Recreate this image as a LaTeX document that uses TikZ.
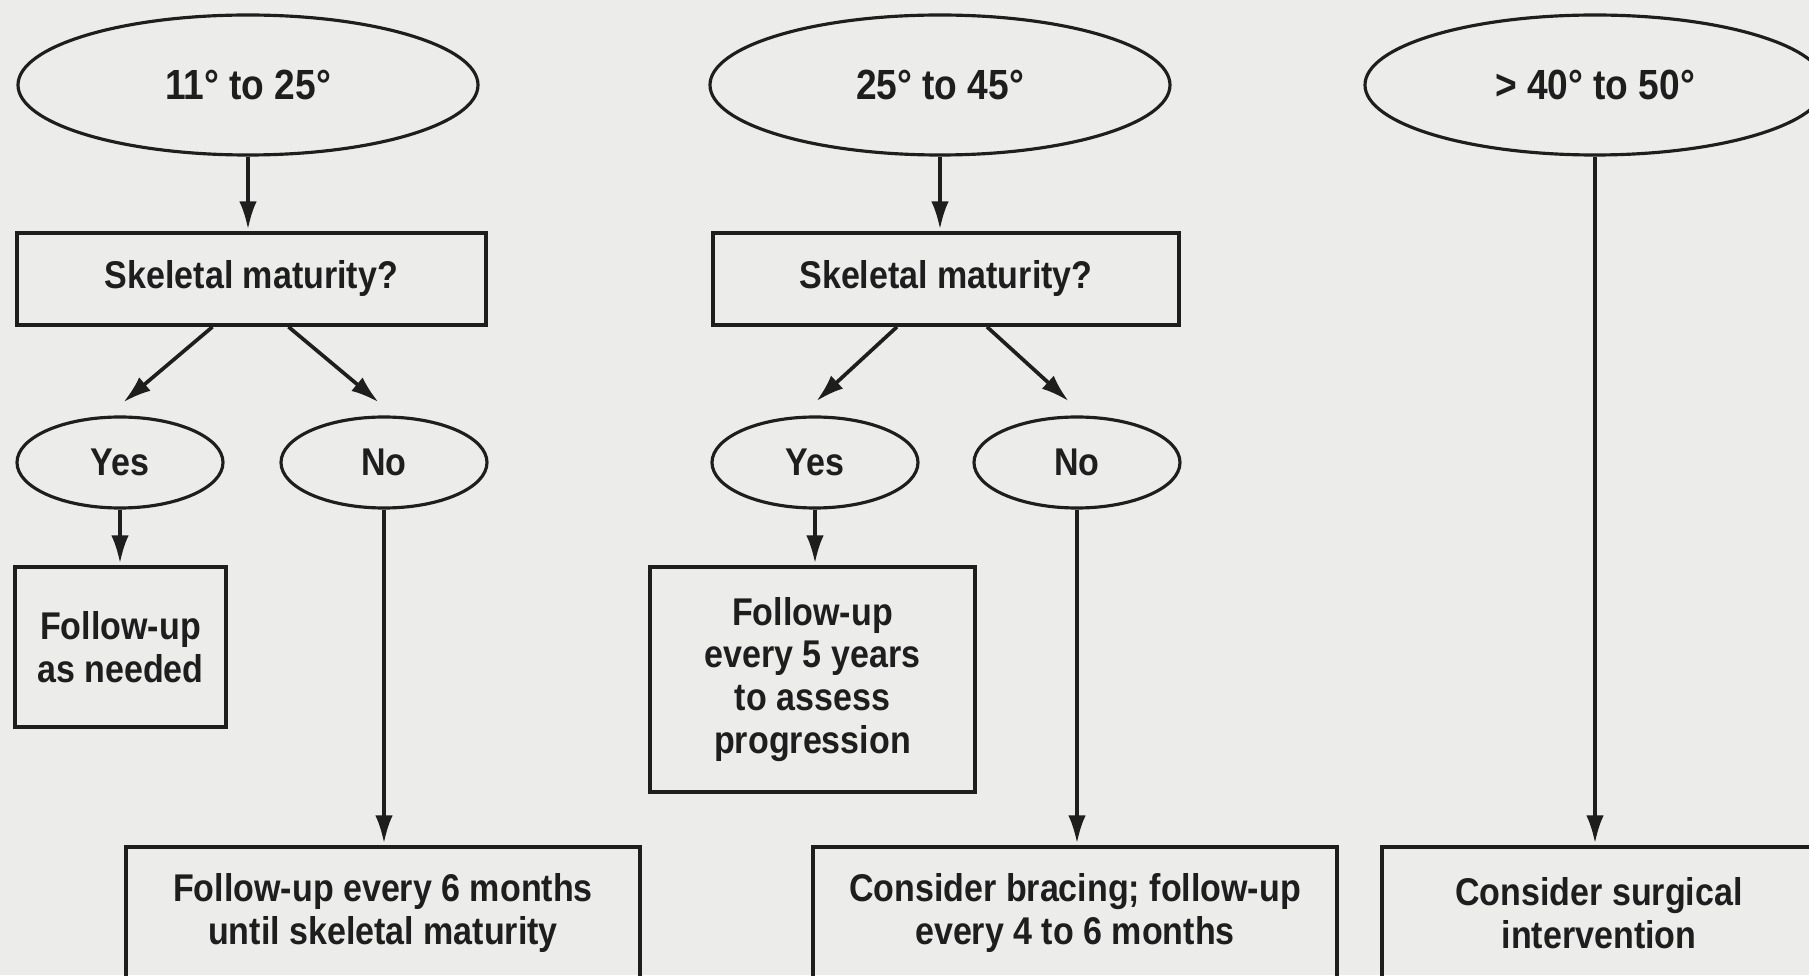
\documentclass[tikz,border=0pt]{standalone}
\usepackage{fontspec}
\setmainfont{Liberation Sans}[FakeStretch=0.88]
\usetikzlibrary{arrows.meta, shapes.geometric}
\definecolor{paper}{RGB}{236,236,234}
\definecolor{ink}{RGB}{30,30,30}

\begin{document}
\begin{tikzpicture}[
            > = {Latex[length=8pt, width=5pt]}, % arrow head style
            shorten > = 0.5pt, % tip ends on the box
            line width = 1.05pt,
            color = ink,
            font = \bfseries\fontsize{11}{12.2}\selectfont
        ]

        \tikzstyle{cobb}=[
            ellipse,
            draw,
            line width = 0.9pt,
            minimum width = 4.6cm,
            minimum height = 1.4cm,
            font = \bfseries\fontsize{12}{14}\selectfont
        ]
        \tikzstyle{answer}=[ellipse, draw, line width=0.9pt, minimum width=2.06cm, minimum height=0.91cm, inner sep=0pt]
        \tikzstyle{action}=[rectangle, draw, align=center, inner sep=0pt]

        \fill[paper] (0,0) rectangle (18.09,9.75);
        \useasboundingbox (0,0) rectangle (18.09,9.75);
        \clip (0,0) rectangle (18.09,9.75);

        \node[cobb] (r1) at (2.48,8.90)  {11° to 25°};
        \node[cobb] (r2) at (9.40,8.90)  {25° to 45°};
        \node[cobb] (r3) at (15.95,8.90) {> 40° to 50°};

        \node[action, minimum width=4.69cm, minimum height=0.92cm] (m1) at (2.515,6.96) {Skeletal maturity?};
        \node[action, minimum width=4.66cm, minimum height=0.92cm] (m2) at (9.46,6.96)  {Skeletal maturity?};

        \node[answer] (y1) at (1.20,5.125)  {Yes};
        \node[answer] (n1) at (3.84,5.125)  {No};
        \node[answer] (y2) at (8.15,5.125)  {Yes};
        \node[answer] (n2) at (10.77,5.125) {No};

        \node[action, minimum width=2.11cm, minimum height=1.60cm] (f1) at (1.205,3.28)  {Follow-up\\as needed};
        \node[action, minimum width=3.25cm, minimum height=2.25cm] (f2) at (8.125,2.955) {Follow-up\\every 5 years\\to assess\\progression};

        \node[action, minimum width=5.14cm, minimum height=1.32cm] (b1) at (3.83,0.62)  {Follow-up every 6 months\\until skeletal maturity};
        \node[action, minimum width=5.24cm, minimum height=1.32cm] (b2) at (10.75,0.62) {Consider bracing; follow-up\\every 4 to 6 months};
        \node[action, minimum width=4.34cm, minimum height=1.32cm] (b3) at (15.99,0.62) {Consider surgical\\intervention};

        \path[->] (r1.south) edge node {} (r1.south |- m1.north);
        \path[->] (r2.south) edge node {} (r2.south |- m2.north);

        \path[->] ([xshift=-0.39cm]m1.south) edge node {} ([xshift=0.02cm, yshift=0.12cm]y1.north);
        \path[->] ([xshift=0.37cm]m1.south)  edge node {} ([xshift=-0.04cm, yshift=0.12cm]n1.north);
        \path[->] ([xshift=-0.49cm]m2.south) edge node {} ([yshift=0.13cm]y2.north);
        \path[->] ([xshift=0.41cm]m2.south)  edge node {} ([xshift=-0.07cm, yshift=0.13cm]n2.north);

        \path[->] (y1.south) edge node {} (y1.south |- f1.north);
        \path[->] (y2.south) edge node {} (y2.south |- f2.north);
        \path[->] (n1.south) edge node {} (n1.south |- b1.north);
        \path[->] (n2.south) edge node {} (n2.south |- b2.north);
        \path[->] (r3.south) edge node {} (r3.south |- b3.north);

        % \node (note) at (9,-0.5) {};
    \end{tikzpicture}
\end{document}
